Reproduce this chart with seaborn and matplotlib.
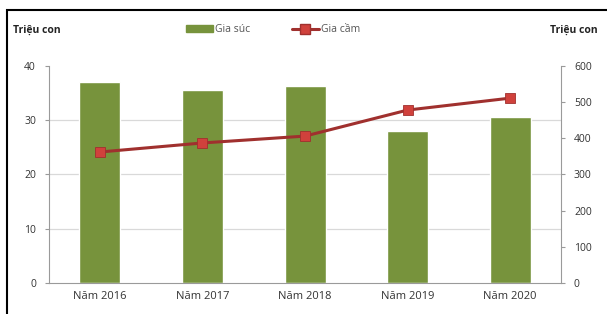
import matplotlib
matplotlib.use("Agg")
import matplotlib.pyplot as plt
import seaborn as sns
import pandas as pd
from matplotlib.patches import Rectangle
from matplotlib.lines import Line2D

years = ["Năm 2016", "Năm 2017", "Năm 2018", "Năm 2019", "Năm 2020"]
gia_suc = [37.0, 35.5, 36.3, 28.0, 30.6]
gia_cam = [362, 387, 406, 478, 511]

df = pd.DataFrame({"year": years, "gia_suc": gia_suc, "gia_cam": gia_cam})

sns.set_style("white")
plt.rcParams["font.family"] = ["Open Sans", "DejaVu Sans"]

bar_color = "#77933C"
line_color = "#A0302E"
marker_color = "#D0413C"
grid_color = "#D9D9D9"
spine_color = "#9A9A9A"

fig = plt.figure(figsize=(6.07, 3.14), dpi=100)
ax = fig.add_axes([0.080, 0.099, 0.845, 0.691])

sns.barplot(data=df, x="year", y="gia_suc", color=bar_color, width=0.4,
            saturation=1, ax=ax, zorder=2)
ax.set_ylim(0, 40)
ax.set_yticks([0, 10, 20, 30, 40])
ax.set_xlim(-0.5, 4.5)
ax.set_xlabel("")
ax.set_ylabel("")
for y in [10, 20, 30]:
    ax.axhline(y, color=grid_color, lw=0.9, zorder=1)

ax2 = ax.twinx()
sns.lineplot(x=list(range(len(years))), y=df["gia_cam"], ax=ax2,
             color=line_color, lw=2.2, marker="s", markersize=7,
             markerfacecolor=marker_color, markeredgecolor=line_color,
             markeredgewidth=0.6, zorder=3)
ax2.set_ylim(0, 600)
ax2.set_yticks(range(0, 601, 100))
ax2.set_xlim(-0.5, 4.5)
ax2.set_ylabel("")

for a in (ax, ax2):
    for s in a.spines.values():
        s.set_visible(False)
    a.tick_params(colors="#333333", labelsize=7.5, length=3, width=0.8)
    a.tick_params(axis="y", color=spine_color)
ax.spines["left"].set_visible(True)
ax.spines["left"].set_color(spine_color)
ax.spines["bottom"].set_visible(True)
ax.spines["bottom"].set_color(spine_color)
ax2.spines["right"].set_visible(True)
ax2.spines["right"].set_color(spine_color)
ax.tick_params(axis="x", length=0, pad=6, labelsize=8)
ax.tick_params(axis="y", pad=6)
ax2.tick_params(axis="y", pad=6)

fig.text(0.022, 0.905, "Triệu con", fontsize=7.5, fontweight="bold",
         color="#222222", va="center")
fig.text(0.985, 0.905, "Triệu con", fontsize=7.5, fontweight="bold",
         color="#222222", ha="right", va="center")

handles = [
    Rectangle((0, 0), 1, 1, color=bar_color),
    Line2D([], [], color=line_color, lw=2.2, marker="s", markersize=7,
           markerfacecolor=marker_color, markeredgecolor=line_color),
]
fig.legend(handles, ["Gia súc", "Gia cầm"], loc="center", bbox_to_anchor=(0.45, 0.905),
           ncol=2, frameon=False, fontsize=7.5, handlelength=2.6, handletextpad=0.2,
           columnspacing=4, labelcolor="#555555")

fig.patches.append(Rectangle((7 / 607, -0.01), 1.0, 1 - 10 / 314 + 0.01,
                             transform=fig.transFigure, fill=False,
                             edgecolor="black", lw=1.5))

fig.savefig("out.png", dpi=100)
